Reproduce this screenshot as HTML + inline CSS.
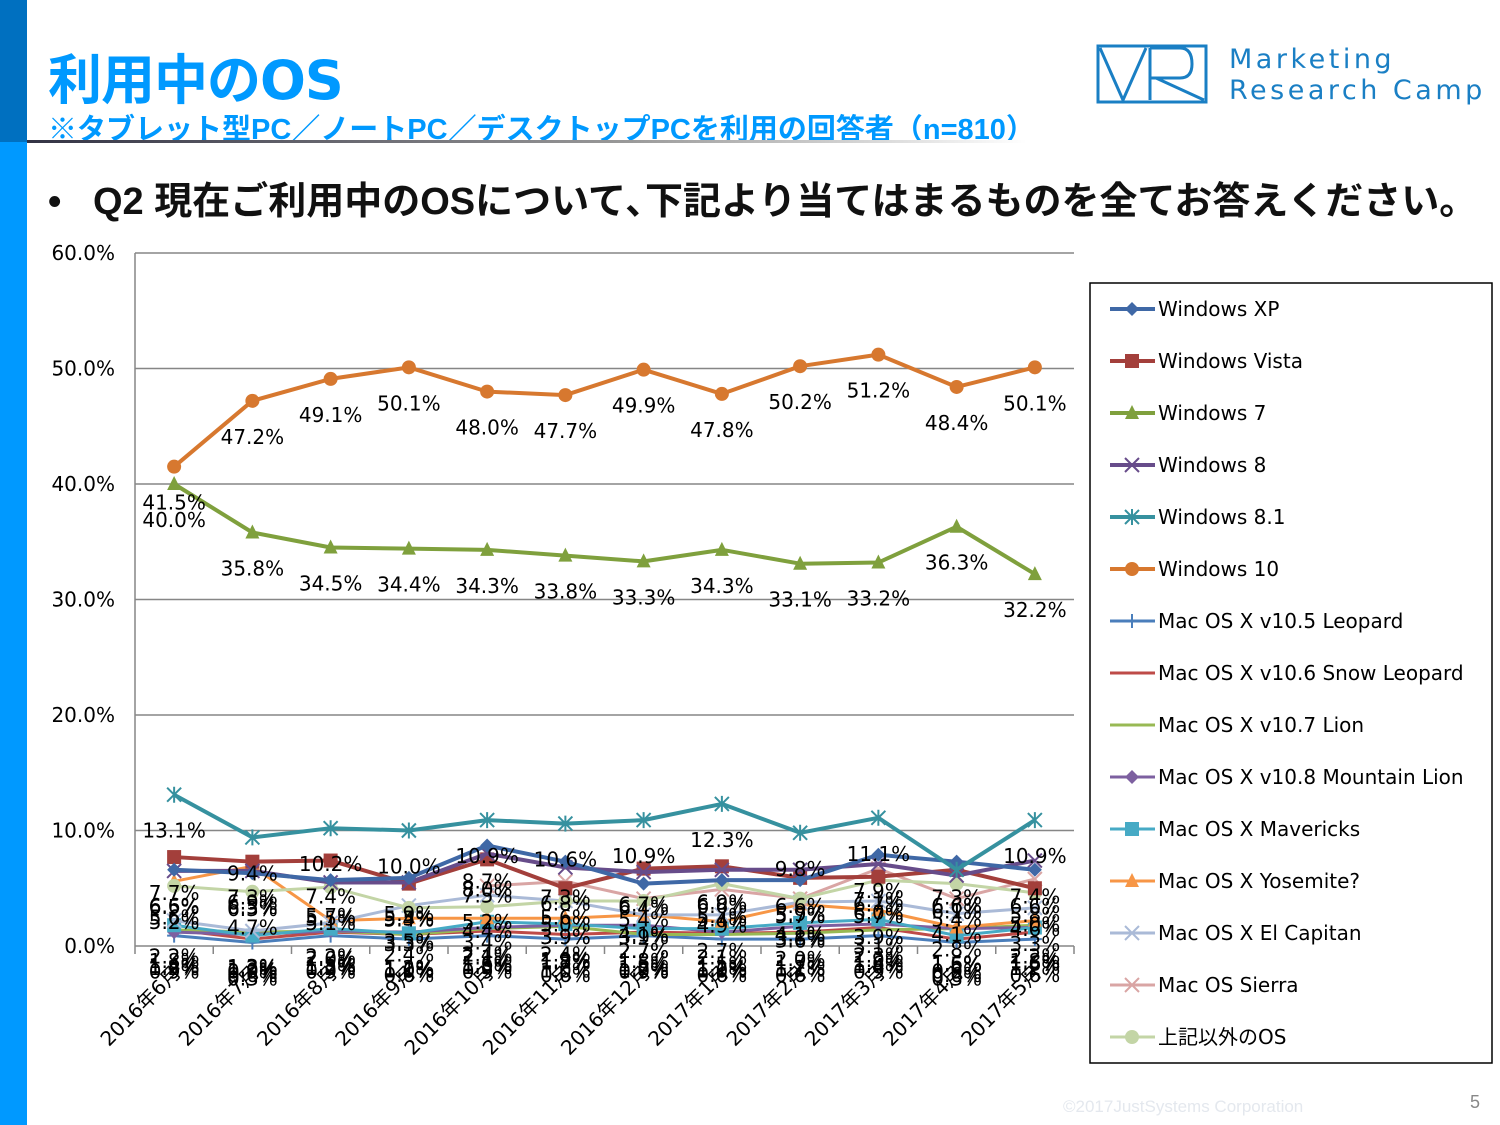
<!DOCTYPE html>
<html><head><meta charset="utf-8">
<style>
body{margin:0;width:1500px;height:1125px;background:#fff;position:relative;overflow:hidden;font-family:"Liberation Sans","Noto Sans CJK JP",sans-serif;}
.abs{position:absolute}
</style></head>
<body>
<div class="abs" style="left:0;top:0;width:27px;height:142px;background:#0070c0"></div>
<div class="abs" style="left:0;top:142px;width:27px;height:983px;background:#0099ff"></div>
<div class="abs" style="left:48px;top:36px;font-size:54px;font-weight:bold;color:#0099ff;font-family:'DejaVu Sans','Noto Sans CJK JP',sans-serif;letter-spacing:-1px">利用中のOS</div>
<div class="abs" style="left:48px;top:106px;font-size:29px;font-weight:bold;color:#0099ff;white-space:nowrap">※タブレット型PC／ノートPC／デスクトップPCを利用の回答者（n=810）</div>
<div class="abs" style="left:27px;top:140px;width:1000px;height:3px;background:linear-gradient(to right,#334,#999 60%,#fff)"></div>
<svg class="abs" style="left:1096px;top:44px" width="112" height="60">
<g fill="none" stroke="#1a7fc4" stroke-width="3">
<rect x="2" y="2" width="108" height="56"/>
<path d="M4 4 L27 56 L50 4"/>
<path d="M54 4 V56"/>
<path d="M54 4 H84 Q96 4 96 20 Q96 34 84 34 H54"/>
<path d="M60 34 L108 56"/>
</g></svg>
<div class="abs" style="left:1229px;top:44px;font-size:27px;color:#1a7fc4;letter-spacing:3.5px;line-height:31px;font-family:'DejaVu Sans',sans-serif">Marketing<br>Research Camp</div>
<div class="abs" style="left:48px;top:170px;font-size:38px;font-weight:bold;color:#111;white-space:nowrap">•&nbsp;&nbsp;&nbsp;Q2 現在ご利用中のOSについて､下記より当てはまるものを全てお答えください。</div>
<div class="abs" style="left:1063px;top:1097px;font-size:17px;color:#e4e8ee">©2017JustSystems Corporation</div>
<div class="abs" style="left:1470px;top:1092px;font-size:18px;color:#888">5</div>

<svg class="abs" style="left:0;top:0;font-family:'DejaVu Sans','Noto Sans CJK JP',sans-serif" width="1500" height="1125" id="chart"></svg>

<script>
const categories=["2016年6月","2016年7月","2016年8月","2016年9月","2016年10月","2016年11月","2016年12月","2017年1月","2017年2月","2017年3月","2017年4月","2017年5月"];
const seriesNames=["Windows XP","Windows Vista","Windows 7","Windows 8","Windows 8.1","Windows 10","Mac OS X v10.5 Leopard","Mac OS X v10.6 Snow Leopard","Mac OS X v10.7 Lion","Mac OS X v10.8 Mountain Lion","Mac OS X Mavericks","Mac OS X Yosemite?","Mac OS X El Capitan","Mac OS Sierra","上記以外のOS"];
const winXP=[6.6,6.3,5.7,5.9,8.7,7.3,5.4,5.7,5.7,7.9,7.3,6.6];
const winVista=[7.7,7.3,7.4,5.4,7.5,5.0,6.7,6.9,5.9,6.0,6.6,5.0];
const win7=[40.0,35.8,34.5,34.4,34.3,33.8,33.3,34.3,33.1,33.2,36.3,32.2];
const win8=[6.5,6.5,5.5,5.5,8.0,6.8,6.4,6.6,6.6,7.1,6.1,7.4];
const win81=[13.1,9.4,10.2,10.0,10.9,10.6,10.9,12.3,9.8,11.1,6.6,10.9];
const win10=[41.5,47.2,49.1,50.1,48.0,47.7,49.9,47.8,50.2,51.2,48.4,50.1];
const leopard=[0.9,0.3,0.9,0.6,0.9,0.6,0.9,0.6,0.6,0.9,0.3,0.6];
const snowLeopard=[1.4,0.6,1.2,1.0,1.3,1.0,1.2,1.1,1.2,1.6,0.6,1.2];
const lion=[1.4,1.2,1.3,1.0,1.5,1.7,1.0,1.0,1.1,1.4,1.5,1.8];
const mountainLion=[1.2,1.0,1.3,1.2,1.6,1.8,1.8,1.2,1.7,1.9,1.5,1.6];
const mavericks=[1.8,0.9,1.5,1.1,2.1,1.9,1.5,1.5,2.0,2.3,0.9,1.6];
const yosemite=[5.6,6.9,2.2,2.4,2.4,2.4,2.7,2.1,3.6,3.1,1.6,2.2];
const elCapitan=[2.2,1.3,2.0,3.5,4.4,3.9,2.7,2.7,3.8,3.9,2.8,3.3];
const sierra=[null,null,null,null,5.2,5.6,4.1,4.9,4.1,6.7,4.1,5.8];
const otherOS=[5.2,4.7,5.1,3.3,3.4,3.9,3.9,5.4,4.1,5.7,5.4,4.6];
const yTicks=[0,10,20,30,40,50,60];
const seriesData=[winXP,winVista,win7,win8,win81,win10,leopard,snowLeopard,lion,mountainLion,mavericks,yosemite,elCapitan,sierra,otherOS];
const colors=["#3f68a6","#a33f3b","#7fa03d","#674c8a","#36919f","#d7782f","#4a7ebb","#be4b48","#98b954","#7d60a0","#46aac5","#f79646","#aabad7","#d9a5a4","#c3d5a6"];
const markers=["diamond","square","triangle","x","star","circle","plus","none","none","diamond","square","triangle","x","x","circle"];
const widths=[4,4,4,4,4,4,3,3,3,3,3,3,3,3,3];

const svg=document.getElementById('chart');
const NS='http://www.w3.org/2000/svg';
const X0=135,X1=1074,Y0=946,Y1=253;
const step=(X1-X0)/categories.length;
const xs=i=>X0+step*(i+0.5);
const ys=v=>Y0-(v/60)*(Y0-Y1);
function mk(tag,attrs,parent){const e=document.createElementNS(NS,tag);for(const k in attrs)e.setAttribute(k,attrs[k]);(parent||svg).appendChild(e);return e;}

yTicks.forEach(t=>{
  const g=mk('line',{x1:X0,x2:X1,y1:ys(t),y2:ys(t),stroke:'#868686','stroke-width':1.5});
  
  
  const tx=mk('text',{x:115,y:ys(t)+7,'text-anchor':'end','font-size':20,fill:'#000'});
  tx.textContent=t.toFixed(1)+'%';
  
  
});
const ax=mk('line',{x1:X0,x2:X0,y1:Y1,y2:Y0,stroke:'#868686','stroke-width':1.5});


for(let i=0;i<=categories.length;i++){
  const t=mk('line',{x1:X0+step*i,x2:X0+step*i,y1:Y0,y2:Y0+8,stroke:'#868686','stroke-width':1.5});
  
  
}
categories.forEach((c,i)=>{
  const x=xs(i)+8,y=Y0+28;
  const t=mk('text',{x:x,y:y,'text-anchor':'end','font-size':20,transform:`rotate(-45 ${x} ${y})`});
  t.textContent=c;
  
  
});

function marker(type,x,y,c,g){
  const s=7;
  if(type==='diamond')mk('polygon',{points:`${x},${y-s} ${x+s},${y} ${x},${y+s} ${x-s},${y}`,fill:c},g);
  else if(type==='square')mk('rect',{x:x-s,y:y-s,width:2*s,height:2*s,fill:c},g);
  else if(type==='triangle')mk('polygon',{points:`${x},${y-s-1} ${x+s},${y+s-1} ${x-s},${y+s-1}`,fill:c},g);
  else if(type==='circle')mk('circle',{cx:x,cy:y,r:s,fill:c},g);
  else if(type==='x'){mk('path',{d:`M${x-s} ${y-s}L${x+s} ${y+s}M${x+s} ${y-s}L${x-s} ${y+s}`,stroke:c,'stroke-width':2},g);}
  else if(type==='star'){mk('path',{d:`M${x-s} ${y-s}L${x+s} ${y+s}M${x+s} ${y-s}L${x-s} ${y+s}M${x} ${y-s-1}L${x} ${y+s+1}`,stroke:c,'stroke-width':2},g);}
  else if(type==='plus'){mk('path',{d:`M${x-s} ${y}L${x+s} ${y}M${x} ${y-s}L${x} ${y+s}`,stroke:c,'stroke-width':2},g);}
}

const order=[6,7,8,9,10,11,12,13,14,1,3,0,4,2,5];
order.forEach(si=>{
  const d=seriesData[si],c=colors[si];
  const g=mk('g',{});
  
  
  let p='';
  d.forEach((v,i)=>{if(v==null)return;p+=(p?'L':'M')+xs(i)+' '+ys(v);});
  mk('path',{d:p,fill:'none',stroke:c,'stroke-width':widths[si],'stroke-linejoin':'round'},g);
  d.forEach((v,i)=>{if(v==null)return;marker(markers[si],xs(i),ys(v),c,g);});
});
order.forEach(si=>{
  const d=seriesData[si];
  d.forEach((v,i)=>{
    if(v==null)return;
    const t=mk('text',{x:xs(i),y:ys(v)+43,'text-anchor':'middle','font-size':20,fill:'#000'});
    t.textContent=v.toFixed(1)+'%';
    
    
  });
});

const lg=mk('g',{});


mk('rect',{x:1090,y:283,width:402,height:780,fill:'#fff',stroke:'#000','stroke-width':1.5},lg);
seriesNames.forEach((n,i)=>{
  const y=309+i*52;
  const e=mk('g',{},lg);
  
  
  mk('line',{x1:1110,x2:1155,y1:y,y2:y,stroke:colors[i],'stroke-width':widths[i]},e);
  marker(markers[i],1132,y,colors[i],e);
  const t=mk('text',{x:1158,y:y+7,'font-size':20,fill:'#000'},e);
  t.textContent=n;
});
</script>
</body></html>
